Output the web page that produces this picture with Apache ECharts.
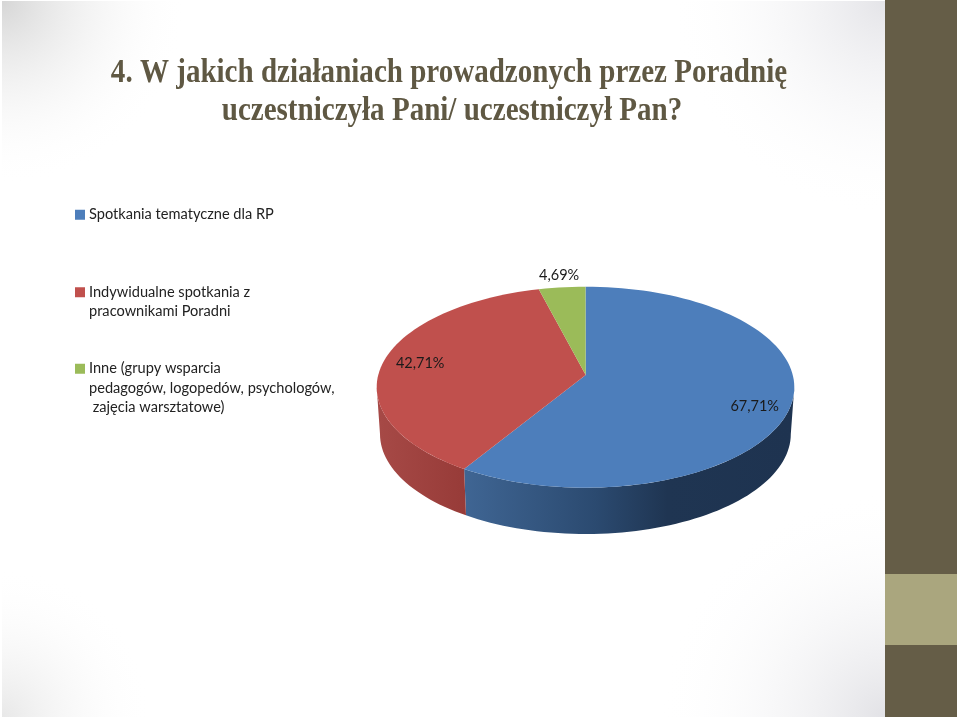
<!DOCTYPE html>
<html>
<head>
<meta charset="utf-8">
<style>html,body{margin:0;padding:0;background:#fff}#c{width:960px;height:719px}</style>
<script src="https://cdn.jsdelivr.net/npm/echarts@6/dist/echarts.min.js"></script>
</head>
<body>
<div id="c"></div>
<script>
const titleLines = ['4. W jakich działaniach prowadzonych przez Poradnię', 'uczestniczyła Pani/ uczestniczył Pan?'];
const categories = ['Spotkania tematyczne dla RP', 'Indywidualne spotkania z\npracownikami Poradni', 'Inne (grupy wsparcia\npedagogów, logopedów, psychologów,\n zajęcia warsztatowe)'];
const values = [67.71, 42.71, 4.69];
const colors = ['#4d7ebb', '#c0504d', '#9bbb59'];

// projection of the tilted disc
const APEX = {x: 585.7, y: 375};
const TOP = {x: 585.5, y: 387.2, rx: 208.8, ry: 100.5};
const BOT = {x: 585.4, y: 434, rx: 205.4, ry: 100};
const K = 2.09;
const SIDE_STOPS = [
  {x0: 466, x1: 791, stops: [[0, '#3f6593'], [0.4, '#2b4a70'], [0.62, '#1f3552'], [1, '#1e3350']]},
  {x0: 380, x1: 466, stops: [[0, '#a64946'], [1, '#973b38']]},
  null
];
const LABEL_OFFSET = [[-37, 3], [36, 3], [-3, -12]];
const rad = d => d * Math.PI / 180;
const total = values.reduce((a, b) => a + b, 0);

function rimAngle(theta) {
  if (theta <= 0) return 0;
  if (theta >= 360) return 360;
  const dx = K * Math.sin(rad(theta)), dy = -Math.cos(rad(theta));
  const ox = (APEX.x - TOP.x) / TOP.rx, oy = (APEX.y - TOP.y) / TOP.ry;
  const ux = dx / TOP.rx, uy = dy / TOP.ry;
  const a = ux * ux + uy * uy, b = 2 * (ox * ux + oy * uy), c = ox * ox + oy * oy - 1;
  const t = (-b + Math.sqrt(b * b - 4 * a * c)) / (2 * a);
  let phi = Math.atan2(ox + t * ux, -(oy + t * uy)) * 180 / Math.PI;
  if (phi < 0) phi += 360;
  return phi;
}
const onEll = (e, phi) => [e.x + e.rx * Math.sin(rad(phi)), e.y - e.ry * Math.cos(rad(phi))];
function arc(e, a, b) {
  const n = Math.max(2, Math.ceil(Math.abs(b - a) / 2)), pts = [];
  for (let i = 0; i <= n; i++) pts.push(onEll(e, a + (b - a) * i / n));
  return pts;
}
function sliceRange(i) {
  let start = 0;
  for (let j = 0; j < i; j++) start += values[j];
  return [start / total * 360, (start + values[i]) / total * 360];
}
const labelText = v => v.toFixed(2).replace('.', ',') + '%';

function renderSlice(i) {
  return function (params, api) {
    const [t0, t1] = sliceRange(i);
    const p0 = rimAngle(t0), p1 = rimAngle(t1);
    const children = [];
    const s0 = Math.max(p0, 90), s1 = Math.min(p1, 270);
    if (s1 > s0 && SIDE_STOPS[i]) {
      const g = SIDE_STOPS[i];
      const pts = arc(TOP, s0, s1).concat(arc(BOT, s1, s0));
      children.push({
        type: 'polygon', shape: {points: pts},
        style: {fill: new echarts.graphic.LinearGradient(g.x0, 0, g.x1, 0,
          g.stops.map(s => ({offset: s[0], color: s[1]})), true)}
      });
    }
    children.push({
      type: 'polygon',
      shape: {points: [[APEX.x, APEX.y]].concat(arc(TOP, p0, p1))},
      style: {fill: colors[i]}
    });
    const mid = rimAngle((t0 + t1) / 2);
    const m = onEll(TOP, mid);
    children.push({
      type: 'text',
      x: m[0] + LABEL_OFFSET[i][0], y: m[1] + LABEL_OFFSET[i][1],
      style: {text: labelText(api.value(0)), font: '14.5px Lato', fill: '#1a1a1a', textAlign: 'center', textVerticalAlign: 'middle'}
    });
    return {type: 'group', children};
  };
}

const legendTops = [205, 263, 320];
const legendFormat = name => {
  const n = name.split('\n').length;
  return '\n'.repeat(n - 1) + name;
};
const cornerFill = (x, y, r, color) => new echarts.graphic.RadialGradient(x, y, r,
  [{offset: 0, color: color}, {offset: 1, color: 'rgba(255,255,255,0)'}], true);
const bgRect = (fill, z) => ({type: 'rect', z, shape: {x: 2, y: 1, width: 883, height: 716}, style: {fill}});

const chart = echarts.init(document.getElementById('c'), null, {renderer: 'canvas'});
chart.setOption({
  animation: false,
  backgroundColor: '#ffffff',
  graphic: {elements: [
    bgRect(cornerFill(2, 1, 185, 'rgba(214,214,214,1)'), -14),
    bgRect(cornerFill(885, 1, 215, 'rgba(228,228,232,1)'), -13),
    bgRect(cornerFill(2, 717, 150, 'rgba(232,232,232,1)'), -12),
    bgRect(cornerFill(885, 717, 225, 'rgba(226,226,230,1)'), -11),
    {type: 'rect', z: -9, shape: {x: 885, y: 0, width: 72, height: 717}, style: {fill: '#655d47'}},
    {type: 'rect', z: -8, shape: {x: 885, y: 574, width: 72, height: 71}, style: {fill: '#aaa67e'}},
    {type: 'text', x: 449, y: 73, scaleX: 0.88, z: 5,
      style: {text: titleLines[0], font: 'bold 33px "Liberation Serif"', fill: '#5f5843', textAlign: 'center', textVerticalAlign: 'middle'}},
    {type: 'text', x: 452, y: 111, scaleX: 0.88, z: 5,
      style: {text: titleLines[1], font: 'bold 33px "Liberation Serif"', fill: '#5f5843', textAlign: 'center', textVerticalAlign: 'middle'}}
  ]},
  legend: categories.map((c, i) => ({
    data: [{name: c, icon: 'rect'}],
    orient: 'vertical', left: 75, top: legendTops[i], padding: 0,
    itemWidth: 10, itemHeight: 10, itemGap: 0, selectedMode: false,
    formatter: legendFormat,
    textStyle: {fontFamily: 'Lato', fontSize: 14.6, lineHeight: 19.5, color: '#222222', padding: [0, 0, 0, -1]}
  })),
  series: categories.map((c, i) => ({
    type: 'custom', name: c, coordinateSystem: 'none',
    itemStyle: {color: colors[i]},
    data: [[values[i]]],
    silent: true,
    renderItem: renderSlice(i)
  }))
});
</script>
</body>
</html>
